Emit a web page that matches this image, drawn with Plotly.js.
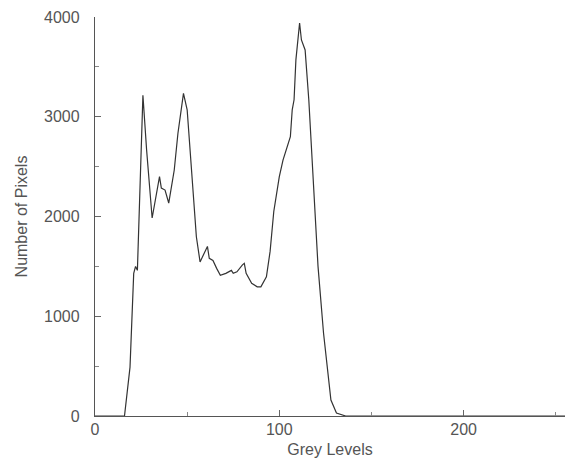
<!DOCTYPE html>
<html>
<head>
<meta charset="utf-8">
<script src="https://cdn.plot.ly/plotly-3.0.1.min.js"></script>
<style>html,body{margin:0;padding:0;background:#fff;}#chart{width:565px;height:467px;}</style>
</head>
<body>
<div id="chart"></div>
<script>
// Grey level (x) and pixel count (y)
const greyLevels = [0,16,19,21,22,23,26,28,31,33,35,36,38,40,41,43,45,48,50,54,55,57,59,61,62,64,66,68,71,74,75,77,80,81,82,85,88,90,93,95,97,100,102,105,106,107,108,109,111,112,114,116,119,121,124,126,128,131,136,255];
const pixelCounts = [0,0,490,1430,1500,1460,3215,2667,1985,2195,2400,2285,2265,2135,2245,2466,2835,3235,3070,2000,1797,1545,1630,1700,1580,1560,1480,1410,1430,1460,1430,1445,1515,1530,1430,1330,1295,1295,1395,1650,2050,2400,2565,2735,2800,3070,3170,3570,3940,3770,3670,3170,2235,1500,830,490,160,30,0,0];
const xTickVals = [0,100,200];
const yTickVals = [0,1000,2000,3000,4000];

const font = {family: 'Liberation Sans, Arial, sans-serif', size: 16, color: '#555'};

Plotly.newPlot('chart', [{
  x: greyLevels, y: pixelCounts, type: 'scatter', mode: 'lines',
  line: {color: '#333', width: 1.2}, hoverinfo: 'skip'
}], {
  width: 565, height: 467,
  margin: {l: 95, r: 0, t: 17, b: 51},
  paper_bgcolor: '#fff', plot_bgcolor: '#fff',
  showlegend: false,
  font: font,
  xaxis: {
    range: [0, 255], tickmode: 'array', tickvals: xTickVals, ticktext: xTickVals.map(String),
    ticks: 'inside', ticklen: 6, tickcolor: '#666', tickwidth: 1,
    minor: {tickmode: 'array', tickvals: [50,150,250], ticks: 'inside', ticklen: 4, tickcolor: '#888'},
    showline: true, linecolor: '#555', linewidth: 1.2, showgrid: false, zeroline: false,
    ticklabelstandoff: -1,
    title: {text: 'Grey Levels', font: font, standoff: 6}
  },
  yaxis: {
    range: [0, 4000], tickmode: 'array', tickvals: yTickVals, ticktext: yTickVals.map(String),
    ticks: 'inside', ticklen: 6, tickcolor: '#666', tickwidth: 1,
    minor: {tickmode: 'array', tickvals: [500,1500,2500,3500], ticks: 'inside', ticklen: 4, tickcolor: '#888'},
    showline: true, linecolor: '#555', linewidth: 1.2, showgrid: false, zeroline: false,
    ticklabelstandoff: 11,
    title: {text: 'Number of Pixels', font: font, standoff: 12}
  }
}, {staticPlot: true, displayModeBar: false});
</script>
</body>
</html>
